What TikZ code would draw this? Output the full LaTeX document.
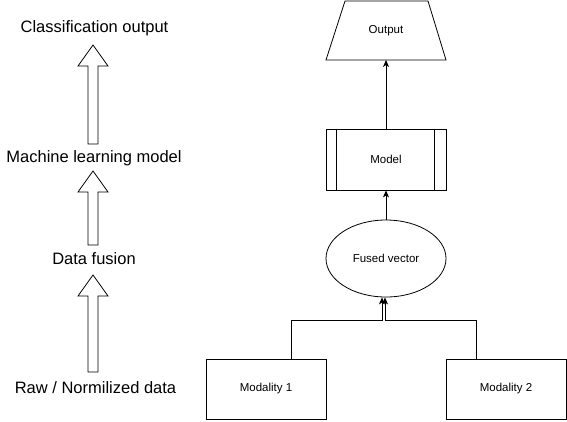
\documentclass[tikz,border=0pt]{standalone}
\usepackage{fontspec}
\setmainfont{Liberation Sans}
\usetikzlibrary{arrows.meta,shapes.geometric}

\tikzset{
  stage/.style={font=\fontsize{16.5}{20}\selectfont},
  box/.style={draw,minimum width=120pt,minimum height=60pt,font=\fontsize{11.5}{14}\selectfont},
  link/.style={-{Stealth[length=7pt,width=6pt,inset=2pt]}},
}

\begin{document}
\begin{tikzpicture}[x=1pt,y=-1pt,line width=0.8pt]
        \useasboundingbox (0,0) rectangle (567,421);
        % left: pipeline stages
        \node[stage] (cls) at (94.5,28) {Classification output};
        \node[stage] (ml) at (94,158) {Machine learning model};
        \node[stage] (fus) at (94,259) {Data fusion};
        \node[stage] (raw) at (95.5,388) {Raw / Normilized data};
        \foreach \tip/\base/\bot in {45/66/144,171/192/245,275/296/372}
            \draw (88,\bot) -- (88,\base) -- (78,\base) -- (93,\tip) -- (108,\base) -- (98,\base) -- (98,\bot) -- cycle;
        % right: fusion model
        \node[box,draw=none] (out) at (386,30.5) {Output};
        \coordinate (outbase) at ([shift={(0,29.5)}]out.center);
        \draw ([shift={(-60,29.5)}]out.center) -- ([shift={(-41,-29.5)}]out.center)
            -- ([shift={(42,-29.5)}]out.center) -- ([shift={(60,29.5)}]out.center) -- cycle;
        \node[box,minimum height=61pt] (model) at (386,159.5) {Model};
        \draw ([xshift=11pt]model.north west) -- ([xshift=11pt]model.south west);
        \draw ([xshift=-12pt]model.north east) -- ([xshift=-12pt]model.south east);
        \node[box,ellipse,minimum height=77pt] (fused) at (386,258.5) {Fused vector};
        \node[box] (mod1) at (266,389) {Modality 1};
        \node[box] (mod2) at (506,389) {Modality 2};
        \draw[link] (model) -- (outbase);
        \draw[link] (fused) -- (model);
        \draw[link] ([xshift=25pt]mod1.north) |- ([xshift=-4pt,yshift=-23pt]fused.south) -- ([xshift=-4pt]fused.south);
        \draw[link] ([xshift=-30pt]mod2.north) |- ([xshift=-1pt,yshift=-23pt]fused.south) -- ([xshift=-1pt]fused.south);
    \end{tikzpicture}
\end{document}
